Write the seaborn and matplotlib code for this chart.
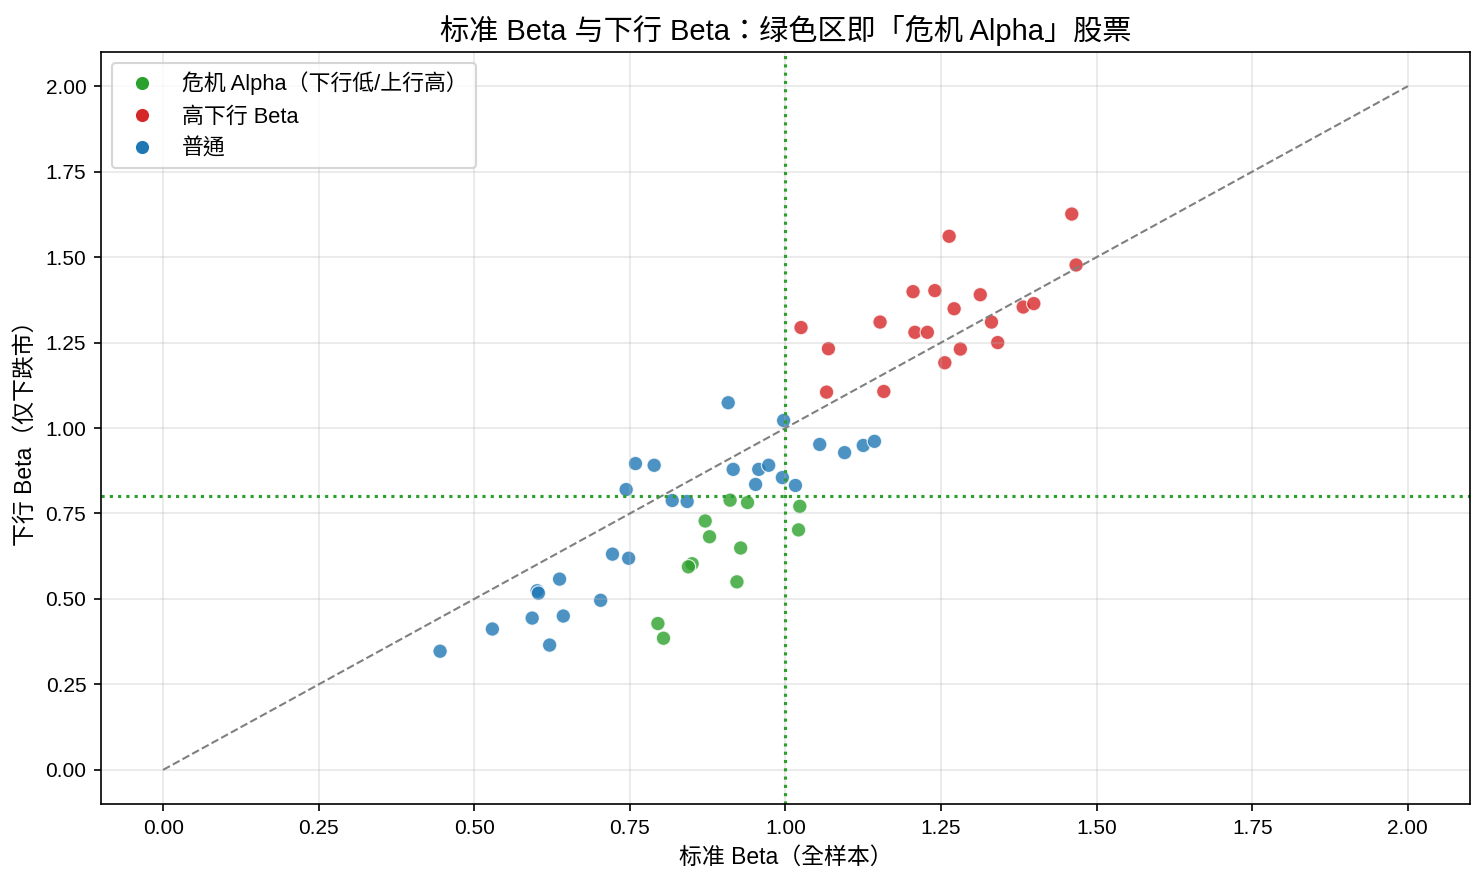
import matplotlib
matplotlib.use('Agg')
import matplotlib.pyplot as plt
import numpy as np
import pandas as pd
import seaborn as sns

# values
crisis_beta = [0.911, 0.939, 1.023, 1.021, 0.871, 0.878, 0.928, 0.850, 0.844, 0.922, 0.795, 0.804]
crisis_down = [0.789, 0.782, 0.771, 0.702, 0.728, 0.682, 0.649, 0.603, 0.594, 0.550, 0.428, 0.385]

high_beta = [1.460, 1.467, 1.263, 1.205, 1.240, 1.313, 1.271, 1.382, 1.399, 1.025,
             1.152, 1.208, 1.228, 1.331, 1.341, 1.281, 1.069, 1.256, 1.066, 1.158]
high_down = [1.626, 1.477, 1.561, 1.399, 1.402, 1.390, 1.349, 1.354, 1.364, 1.294,
             1.310, 1.280, 1.280, 1.310, 1.250, 1.231, 1.232, 1.191, 1.105, 1.107]

normal_beta = [0.445, 0.529, 0.593, 0.601, 0.603, 0.621, 0.637, 0.643, 0.703, 0.722,
               0.748, 0.744, 0.759, 0.789, 0.818, 0.842, 0.908, 0.916, 0.952, 0.957,
               0.973, 0.995, 0.997, 1.016, 1.055, 1.095, 1.125, 1.143]
normal_down = [0.347, 0.412, 0.444, 0.524, 0.517, 0.365, 0.558, 0.450, 0.496, 0.631,
               0.619, 0.820, 0.896, 0.891, 0.788, 0.785, 1.074, 0.879, 0.835, 0.879,
               0.891, 0.855, 1.022, 0.832, 0.952, 0.928, 0.949, 0.961]

groups = ['危机 Alpha（下行低/上行高）', '高下行 Beta', '普通']
colors = ['#2ca02c', '#d62728', '#1f77b4']

df = pd.concat([
    pd.DataFrame({'beta': crisis_beta, 'down': crisis_down, 'group': groups[0]}),
    pd.DataFrame({'beta': high_beta, 'down': high_down, 'group': groups[1]}),
    pd.DataFrame({'beta': normal_beta, 'down': normal_down, 'group': groups[2]}),
], ignore_index=True)

# plain matplotlib look, CJK fallback after the Arial-like face
plt.rcParams['font.family'] = ['Liberation Sans', 'Noto Sans CJK TC', 'DejaVu Sans']
plt.rcParams['axes.unicode_minus'] = False

fig, ax = plt.subplots(figsize=(1484 / 150, 885 / 150), dpi=150)
fig.subplots_adjust(left=0.068, right=0.9906, top=0.9412, bottom=0.0915)

sns.scatterplot(data=df, x='beta', y='down', hue='group', hue_order=groups,
                palette=colors, s=48, alpha=0.8, edgecolor='white', linewidth=0.6, ax=ax)

ax.plot([0, 2], [0, 2], '--', color='gray', linewidth=1)
ax.axvline(1.0, color='#2ca02c', linestyle=':', linewidth=1.5)
ax.axhline(0.8, color='#2ca02c', linestyle=':', linewidth=1.5)

ax.set_xlim(-0.1, 2.1)
ax.set_ylim(-0.1, 2.1)
ax.set_xticks(np.arange(0, 2.01, 0.25))
ax.set_yticks(np.arange(0, 2.01, 0.25))
ax.xaxis.set_major_formatter(matplotlib.ticker.FormatStrFormatter('%.2f'))
ax.yaxis.set_major_formatter(matplotlib.ticker.FormatStrFormatter('%.2f'))
ax.tick_params(labelsize=10)
ax.grid(True, alpha=0.3)

ax.set_xlabel('标准 Beta（全样本）', fontsize=11)
ax.set_ylabel('下行 Beta（仅下跌市）', fontsize=11)
ax.set_title('标准 Beta 与下行 Beta：绿色区即「危机 Alpha」股票', fontsize=14)

leg = ax.legend(loc='upper left', fontsize=10.5, title=None)
for h in leg.legend_handles:
    h.set_alpha(1)

fig.savefig('out.png', dpi=150)
